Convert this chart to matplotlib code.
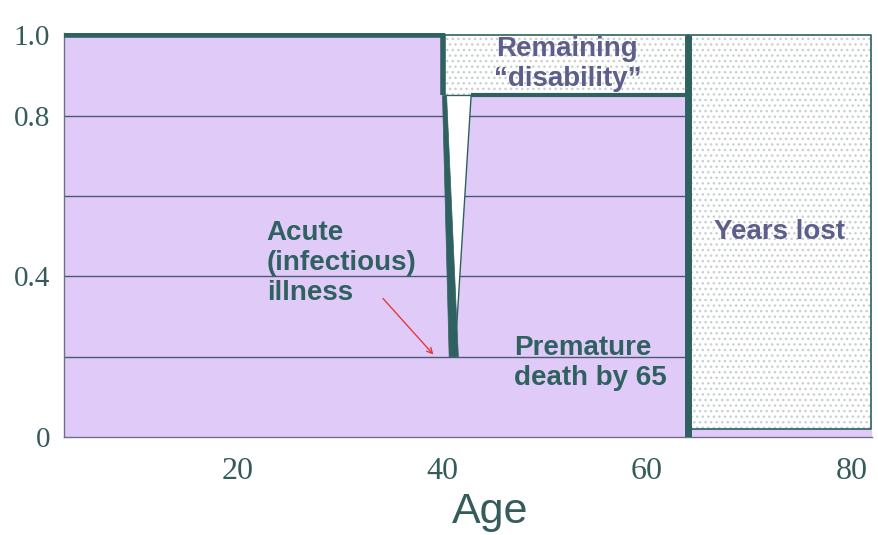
import matplotlib.pyplot as plt
from matplotlib.patches import Polygon, Rectangle

# health trajectory
start_age = 3
onset_age = 40
dip_age = 41.2
recovery_age = 43
death_age = 64
expected_age = 82
full_health = 1.0
residual_health = 0.85
dip_health = 0.2
floor_level = 0.02

grid_levels = [0.2, 0.4, 0.6, 0.8]
y_ticks = [0, 0.4, 0.8, 1.0]
y_labels = ['0', '0.4', '0.8', '1.0']
x_ticks = [20, 40, 60, 80]

PURPLE = '#e0cbf8'
TEAL = '#2e6160'
SLATE = '#5d5e8c'
GRID = '#4c5874'

plt.rcParams['hatch.linewidth'] = 1.0

fig = plt.figure(figsize=(8.79, 5.35), dpi=100)
ax = fig.add_axes([0.073, 0.183, 0.919, 0.755])
ax.set_xlim(start_age, expected_age)
ax.set_ylim(0, 1.005)

# purple area under the health curve
fx = [start_age, onset_age, onset_age, death_age, death_age, expected_age]
fy = [full_health, full_health, residual_health, residual_health, floor_level, floor_level]
ax.fill_between(fx, 0, fy, color=PURPLE, lw=0, zorder=1)

# dotted boxes: remaining disability and years lost
ax.add_patch(Rectangle((onset_age, residual_health), death_age - onset_age,
                       full_health - residual_health, facecolor='white',
                       edgecolor='#c9cfd0', hatch='...', lw=0, zorder=1))
ax.add_patch(Rectangle((death_age, floor_level), expected_age - death_age,
                       full_health - floor_level, facecolor='white',
                       edgecolor='#c9cfd0', hatch='...', lw=0, zorder=1))
ax.plot([onset_age, death_age, death_age], [full_health, full_health, residual_health],
        color=TEAL, lw=1.2, zorder=3)
ax.plot([death_age, expected_age - 0.1, expected_age - 0.1, death_age],
        [full_health, full_health, floor_level, floor_level], color=TEAL, lw=1.2, zorder=3)

# grid lines across the purple area only
ax.hlines(grid_levels, start_age, death_age, color=GRID, lw=1, zorder=2)

# acute illness dip
ax.add_patch(Polygon([(onset_age + 0.3, residual_health), (recovery_age - 0.2, residual_health),
                      (dip_age, dip_health)], closed=True, facecolor='white',
                     edgecolor=TEAL, lw=1, zorder=3))
ax.add_patch(Polygon([(onset_age, residual_health), (onset_age + 0.4, residual_health),
                      (dip_age + 0.35, dip_health), (dip_age - 0.55, dip_health)],
                     closed=True, facecolor=TEAL, edgecolor=TEAL, lw=0.5, zorder=4))

# main health line
ax.plot([start_age, onset_age, onset_age], [full_health, full_health, residual_health],
        color=TEAL, lw=4, solid_capstyle='butt', zorder=5)
ax.plot([recovery_age - 0.2, death_age, death_age], [residual_health, residual_health, 0],
        color=TEAL, lw=3, solid_capstyle='butt', zorder=5)
ax.plot([death_age, death_age], [0, full_health], color=TEAL, lw=5,
        solid_capstyle='butt', zorder=5)

# labels
txt = dict(fontsize=20, fontweight='bold', family='Liberation Sans', va='center',
           linespacing=1.2, zorder=6)
ax.text(52.2, 0.928, 'Remaining\n\u201cdisability\u201d', ha='center', color=SLATE, **txt)
ax.text(73.0, 0.51, 'Years lost', ha='center', color=SLATE, **txt)
ax.text(22.8, 0.433, 'Acute\n(infectious)\nillness', ha='left', color=TEAL, **txt)
ax.text(47.0, 0.184, 'Premature\ndeath by 65', ha='left', color=TEAL, **txt)
ax.annotate('', xy=(39.3, 0.2), xytext=(34.0, 0.35),
            arrowprops=dict(arrowstyle='->', color='#e23a3a', lw=1), zorder=6)

for side in ['top', 'right']:
    ax.spines[side].set_visible(False)
for side in ['left', 'bottom']:
    ax.spines[side].set_color('#6a7288')
    ax.spines[side].set_linewidth(1)

ax.set_xticks(x_ticks)
ax.set_yticks(y_ticks)
ax.set_yticklabels(y_labels)
ax.tick_params(length=0, labelcolor='#355b5b')
ax.tick_params(axis='x', labelsize=23, pad=14)
ax.tick_params(axis='y', labelsize=21, pad=10)
for lab in ax.get_xticklabels() + ax.get_yticklabels():
    lab.set_family('Liberation Serif')
ax.set_xlabel('Age', fontsize=31, color='#355b5b', family='Liberation Sans')
ax.xaxis.set_label_coords(0.527, -0.135)

fig.savefig('out.png', dpi=100)
